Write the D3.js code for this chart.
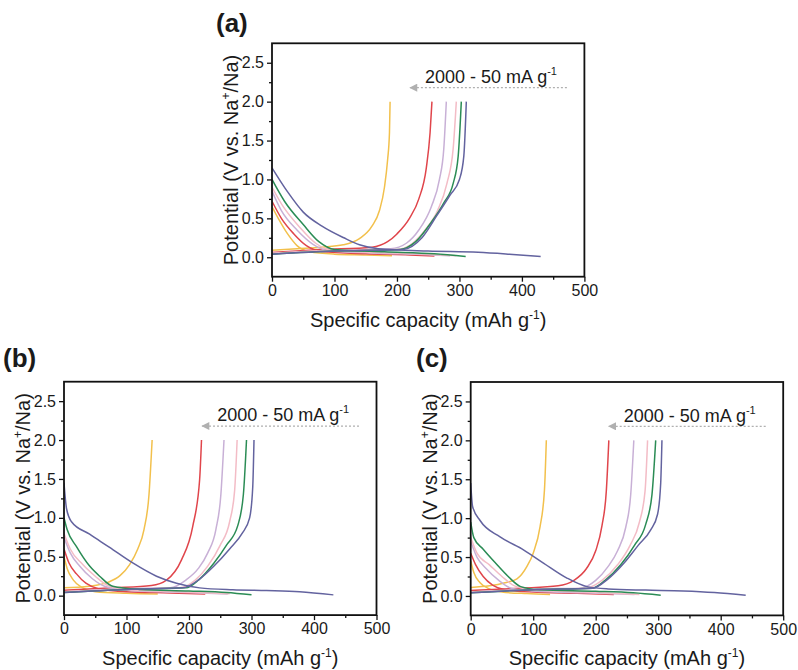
<!DOCTYPE html>
<html><head><meta charset="utf-8">
<script src="https://cdn.jsdelivr.net/npm/d3@7"></script>
<style>
body{margin:0;background:#fff}
svg text{font-family:"Liberation Sans",Arial,sans-serif;fill:#1a1a1a}
</style>
</head><body><svg id="chart" width="798" height="670"></svg>
<script>
// ---------- data ----------
const rates = ["2000", "1000", "500", "200", "100", "50"]; // mA g-1
const xTicks = [0, 100, 200, 300, 400, 500];
const yTicks = [0.0, 0.5, 1.0, 1.5, 2.0, 2.5];
const xMinor = [50, 150, 250, 350, 450];
const yMinor = [0.25, 0.75, 1.25, 1.75, 2.25];
const legendText = "2000 - 50 mA g";

// panel (a) discharge / charge  [capacity mAh/g, potential V]
const dischargeA = [
  [[0,0.65],[10,0.5],[25,0.3],[40,0.15],[60,0.07],[100,0.04],[150,0.03],[192,0.02]],
  [[0,0.72],[15,0.5],[35,0.3],[55,0.15],[80,0.075],[150,0.045],[220,0.03],[260,0.015]],
  [[0,0.85],[15,0.6],[40,0.35],[65,0.17],[90,0.085],[160,0.055],[240,0.035],[285,0.02]],
  [[0,0.9],[18,0.65],[45,0.38],[70,0.18],[95,0.09],[170,0.06],[250,0.04],[295,0.02]],
  [[0,1.0],[20,0.72],[50,0.42],[75,0.2],[100,0.1],[180,0.07],[260,0.045],[310,0.01]],
  [[0,1.15],[25,0.84],[50,0.58],[80,0.4],[115,0.25],[140,0.16],[170,0.11],[250,0.08],[330,0.065],[380,0.04],[430,0.01]]
];
const chargeA = [
  [[0,0.09],[40,0.11],[80,0.13],[114,0.16],[140,0.24],[160,0.4],[172,0.6],[180,0.9],[185,1.25],[188,1.6],[189,2.0]],
  [[0,0.06],[80,0.1],[160,0.13],[185,0.2],[200,0.3],[220,0.5],[235,0.75],[247,1.15],[253,1.6],[256,2.0]],
  [[0,0.05],[100,0.09],[190,0.11],[215,0.18],[235,0.35],[255,0.65],[268,1.0],[275,1.4],[279,2.0]],
  [[0,0.05],[100,0.09],[200,0.1],[225,0.18],[245,0.35],[265,0.6],[280,0.95],[290,1.4],[295,2.0]],
  [[0,0.04],[100,0.08],[205,0.1],[230,0.2],[255,0.45],[275,0.7],[290,0.95],[298,1.3],[303,2.0]],
  [[0,0.04],[100,0.08],[210,0.1],[240,0.25],[265,0.55],[285,0.8],[300,1.0],[307,1.3],[311,2.0]]
];

// panel (b)
const dischargeB = [
  [[0,0.5],[5,0.35],[15,0.2],[30,0.1],[50,0.05],[100,0.03],[150,0.02]],
  [[0,0.6],[8,0.42],[20,0.28],[35,0.16],[55,0.09],[100,0.05],[170,0.035],[226,0.02]],
  [[0,0.75],[10,0.55],[25,0.38],[45,0.22],[65,0.12],[100,0.07],[180,0.045],[262,0.02]],
  [[0,0.8],[10,0.6],[30,0.4],[50,0.25],[70,0.13],[100,0.08],[180,0.05],[265,0.025]],
  [[0,1.0],[5,0.85],[20,0.63],[41,0.38],[57,0.25],[78,0.12],[120,0.08],[200,0.06],[260,0.04],[300,0.01]],
  [[0,1.45],[4,1.12],[12,0.95],[41,0.79],[73,0.62],[110,0.42],[148,0.25],[180,0.16],[217,0.1],[270,0.075],[324,0.065],[377,0.05],[431,0.01]]
];
const chargeB = [
  [[0,0.1],[40,0.12],[70,0.17],[90,0.26],[105,0.4],[118,0.6],[128,0.85],[136,1.3],[141,2.0]],
  [[0,0.07],[80,0.1],[140,0.13],[164,0.2],[188,0.46],[206,0.89],[217,1.49],[220,2.0]],
  [[0,0.05],[100,0.09],[170,0.1],[195,0.2],[215,0.35],[230,0.55],[243,0.85],[251,1.3],[256,2.0]],
  [[0,0.05],[100,0.08],[185,0.1],[210,0.2],[230,0.38],[250,0.65],[265,0.95],[273,1.35],[277,2.0]],
  [[0,0.04],[100,0.08],[195,0.1],[215,0.2],[240,0.42],[260,0.65],[278,0.9],[287,1.3],[292,2.0]],
  [[0,0.04],[100,0.08],[190,0.1],[215,0.2],[240,0.38],[265,0.6],[285,0.8],[297,1.0],[302,1.4],[304,2.0]]
];

// panel (c)
const dischargeC = [
  [[0,0.45],[5,0.3],[15,0.17],[30,0.09],[50,0.05],[90,0.03],[127,0.02]],
  [[0,0.55],[8,0.4],[20,0.25],[35,0.14],[55,0.08],[100,0.05],[170,0.035],[229,0.02]],
  [[0,0.7],[10,0.5],[25,0.35],[45,0.2],[65,0.1],[100,0.065],[180,0.04],[262,0.02]],
  [[0,0.75],[10,0.55],[30,0.4],[50,0.25],[70,0.13],[100,0.08],[180,0.05],[270,0.02]],
  [[0,0.95],[5,0.75],[20,0.6],[40,0.42],[60,0.25],[80,0.12],[110,0.08],[200,0.06],[260,0.04],[304,0.01]],
  [[0,1.45],[3,1.15],[15,0.97],[47,0.76],[85,0.59],[117,0.42],[154,0.23],[186,0.12],[220,0.09],[280,0.075],[340,0.065],[390,0.045],[440,0.01]]
];
const chargeC = [
  [[0,0.11],[30,0.13],[55,0.17],[74,0.22],[90,0.38],[100,0.55],[111,0.89],[118,1.36],[121,2.0]],
  [[0,0.07],[80,0.1],[140,0.13],[165,0.2],[185,0.35],[200,0.58],[210,0.9],[217,1.35],[221,2.0]],
  [[0,0.05],[100,0.09],[175,0.1],[200,0.2],[220,0.38],[235,0.58],[248,0.88],[256,1.3],[261,2.0]],
  [[0,0.05],[100,0.08],[185,0.1],[210,0.2],[235,0.4],[255,0.65],[270,0.95],[279,1.35],[283,2.0]],
  [[0,0.04],[100,0.08],[195,0.1],[215,0.2],[240,0.4],[262,0.65],[280,0.92],[290,1.3],[296,2.0]],
  [[0,0.04],[100,0.08],[195,0.1],[220,0.22],[245,0.42],[268,0.65],[288,0.85],[299,1.05],[304,1.45],[306,2.0]]
];

// ---------- style ----------
const colors = ["#f2c04c", "#e0454b", "#c8b0d6", "#f3bcc6", "#2b8c55", "#63639f"];

const panels = [
  {tag:"(a)", left:272, top:43.3, w:312.4, h:233.4, tagX:216, tagY:32, dis:dischargeA, chg:chargeA},
  {tag:"(b)", left:64,  top:381.7, w:312.5, h:233.4, tagX:3,  tagY:367, dis:dischargeB, chg:chargeB},
  {tag:"(c)", left:470.7, top:382, w:312.5, h:233.4, tagX:416, tagY:367, dis:dischargeC, chg:chargeC}
];

const svg = d3.select("#chart");
const defs = svg.append("defs");
defs.append("marker").attr("id","arrowhead").attr("viewBox","0 0 10 10")
  .attr("refX",9).attr("refY",5).attr("markerWidth",10).attr("markerHeight",8)
  .attr("markerUnits","userSpaceOnUse").attr("orient","auto")
  .append("path").attr("d","M0,0 L10,5 L0,10 Z").attr("fill","#b0b0b0");

panels.forEach((p, i) => {
  const x = d3.scaleLinear().domain([0, 500]).range([p.left, p.left + p.w]);
  const y = d3.scaleLinear().domain([-0.25, 2.75]).range([p.top + p.h, p.top]);
  const g = svg.append("g");

  const clipId = "clip" + i;
  defs.append("clipPath").attr("id", clipId).append("rect")
    .attr("x", p.left).attr("y", p.top).attr("width", p.w).attr("height", p.h);

  const line = d3.line().x(d => x(d[0])).y(d => y(d[1])).curve(d3.curveMonotoneX);
  const curves = g.append("g").attr("clip-path", `url(#${clipId})`);
  rates.forEach((r, k) => {
    curves.append("path").datum(p.dis[k]).attr("d", line)
      .attr("fill","none").attr("stroke", colors[k]).attr("stroke-width", 1.5);
    curves.append("path").datum(p.chg[k]).attr("d", line)
      .attr("fill","none").attr("stroke", colors[k]).attr("stroke-width", 1.5);
  });

  // axes
  const xAxis = g.append("g").attr("transform", `translate(0,${p.top + p.h})`)
    .call(d3.axisBottom(x).tickValues(xTicks).tickSize(5).tickPadding(3).tickFormat(d3.format("d")));
  const xAxisMinor = g.append("g").attr("transform", `translate(0,${p.top + p.h})`)
    .call(d3.axisBottom(x).tickValues(xMinor).tickSize(3).tickFormat(""));
  const yAxis = g.append("g").attr("transform", `translate(${p.left},0)`)
    .call(d3.axisLeft(y).tickValues(yTicks).tickSize(5).tickPadding(3).tickFormat(d3.format(".1f")));
  const yAxisMinor = g.append("g").attr("transform", `translate(${p.left},0)`)
    .call(d3.axisLeft(y).tickValues(yMinor).tickSize(3).tickFormat(""));
  [xAxis, xAxisMinor, yAxis, yAxisMinor].forEach(a => {
    a.select(".domain").remove();
    a.selectAll(".tick line").attr("stroke","#111").attr("stroke-width",1.3);
    a.selectAll(".tick text").attr("font-size", 16).attr("fill","#1a1a1a")
      .attr("font-family",'"Liberation Sans",Arial,sans-serif');
  });

  // frame
  g.append("rect").attr("x", p.left).attr("y", p.top).attr("width", p.w).attr("height", p.h)
    .attr("fill","none").attr("stroke","#111").attr("stroke-width",1.8);

  // axis titles
  const xt = g.append("text").attr("x", p.left + p.w / 2).attr("y", p.top + p.h + 50)
    .attr("text-anchor","middle").attr("font-size", 20);
  xt.append("tspan").text("Specific capacity (mAh g");
  xt.append("tspan").attr("font-size", 12).attr("dy", -8).text("-1");
  xt.append("tspan").attr("dy", 8).text(")");

  const yt = g.append("text")
    .attr("transform", `translate(${p.left - 34},${p.top + p.h / 2}) rotate(-90)`)
    .attr("text-anchor","middle").attr("font-size", 20);
  yt.append("tspan").text("Potential (V vs. Na");
  yt.append("tspan").attr("font-size", 12).attr("dy", -8).text("+");
  yt.append("tspan").attr("dy", 8).text("/Na)");

  // rate legend with arrow
  g.append("line").attr("x1", x(472)).attr("x2", x(221)).attr("y1", y(2.18)).attr("y2", y(2.18))
    .attr("stroke","#b0b0b0").attr("stroke-width",1.3).attr("stroke-dasharray","2,2")
    .attr("marker-end","url(#arrowhead)");
  const lt = g.append("text").attr("x", x(245)).attr("y", y(2.24)).attr("font-size", 18);
  lt.append("tspan").text(legendText);
  lt.append("tspan").attr("font-size", 11).attr("dy", -8).text("-1");

  // panel tag
  g.append("text").attr("x", p.tagX).attr("y", p.tagY).attr("font-size", 26)
    .attr("font-weight","bold").text(p.tag);
});
</script></body></html>
